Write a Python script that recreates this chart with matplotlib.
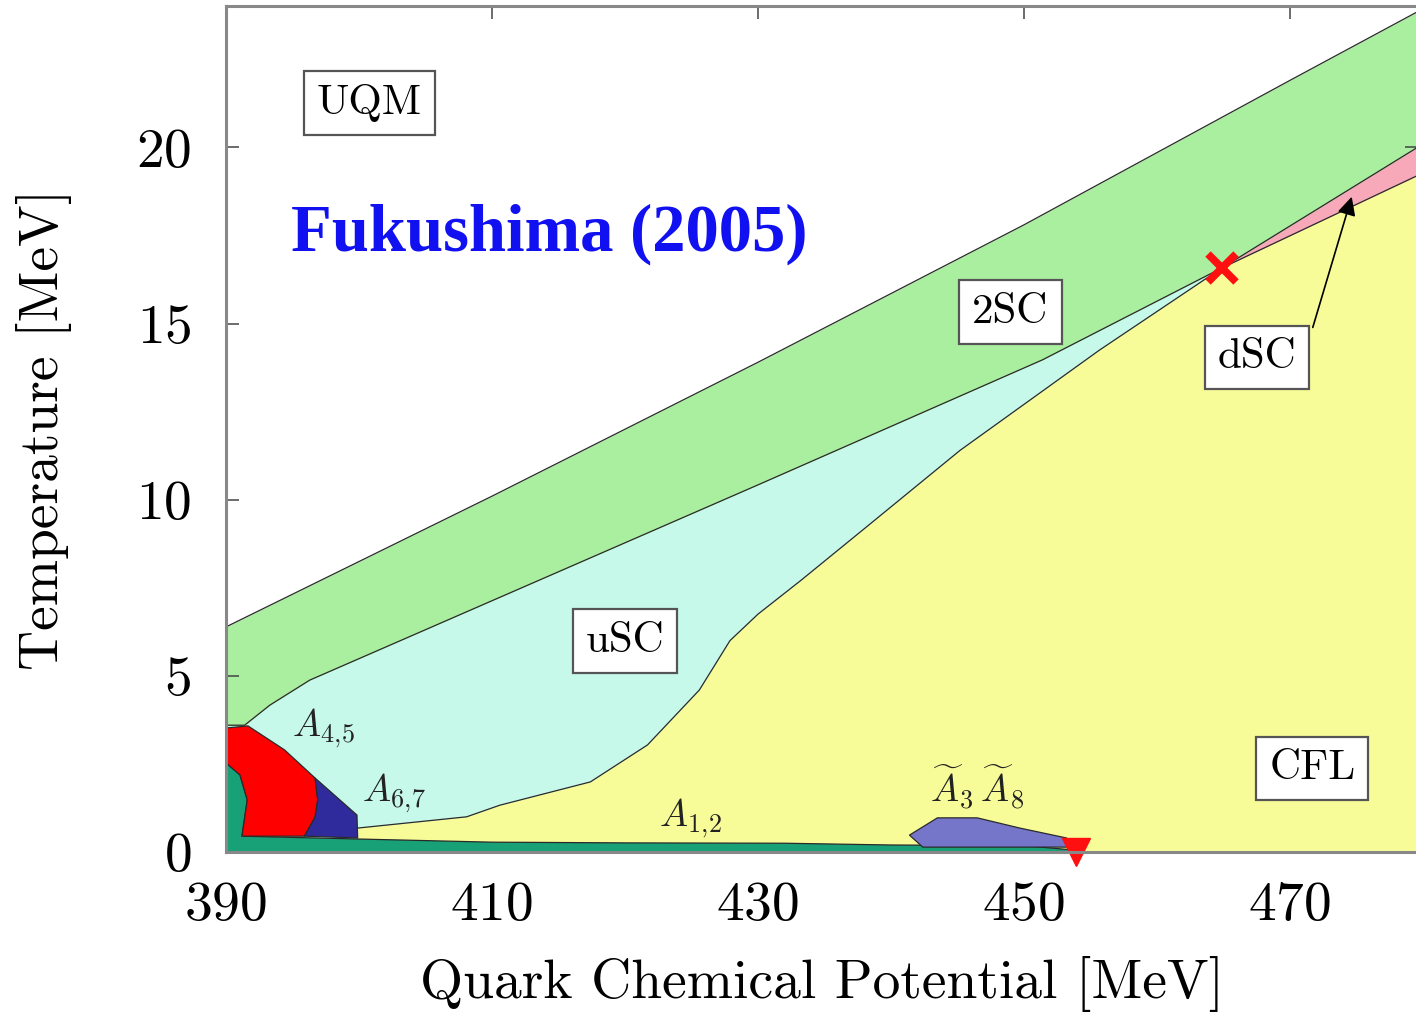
import matplotlib
matplotlib.use("Agg")
import matplotlib.pyplot as plt
from matplotlib.patches import Polygon

plt.rcParams["font.family"] = "cmr10"
plt.rcParams["mathtext.fontset"] = "cm"
plt.rcParams["axes.unicode_minus"] = False
plt.rcParams["axes.formatter.use_mathtext"] = True

# Phase boundaries, quark chemical potential mu [MeV] vs temperature T [MeV]
uqm_mu = [390, 410, 430, 450, 470, 479.6]           # UQM / 2SC
uqm_T = [6.39, 10.1, 13.9, 17.8, 21.9, 23.85]

tsc_mu = [390, 391.4, 393.3, 396.3, 430, 451.4, 464.9, 479.6]   # 2SC / uSC, 2SC / dSC
tsc_T = [3.6, 3.6, 4.17, 4.88, 10.42, 13.97, 16.58, 20.0]

cfl_mu = [399.9, 408.1, 410.6, 417.4, 421.7, 425.6, 427.9, 430.0, 433.2,
          438.4, 445.2, 455.7, 464.9, 479.6]                       # uSC / CFL, dSC / CFL
cfl_T = [0.68, 1.0, 1.33, 1.99, 3.04, 4.6, 6.0, 6.75, 7.7, 9.3, 11.4, 14.25, 16.58, 19.2]

# gapless / meson-condensed islands near the mu axis
teal_pts = [(390, 0), (390, 2.53), (391.05, 2.19), (391.6, 1.48), (391.2, 0.45),
            (399.9, 0.37), (410, 0.28), (420, 0.26), (432, 0.25), (440, 0.2),
            (450, 0.18), (454, 0.05), (454, 0)]
red_pts = [(390, 3.52), (391.65, 3.58), (394.4, 2.9), (396.7, 2.1), (396.9, 1.48),
           (396.7, 0.99), (395.9, 0.45), (391.2, 0.45), (391.6, 1.48),
           (391.05, 2.19), (390, 2.53)]
navy_pts = [(396.7, 2.1), (399.85, 1.05), (399.9, 0.40), (395.9, 0.45),
            (396.7, 0.99), (396.9, 1.48)]
a38_pts = [(441.4, 0.48), (443.5, 0.97), (446.5, 0.97), (449.7, 0.68),
           (453.2, 0.40), (454.2, 0.14), (442.4, 0.14)]

tricrit = (464.9, 16.58)     # 2SC-dSC-CFL meeting point
crit_T0 = (453.9, 0.0)       # end point on the mu axis

phase_boxes = [("UQM", 400.8, 21.25), ("2SC", 449.0, 15.33), ("uSC", 420.0, 5.99),
               ("dSC", 467.55, 14.04), ("CFL", 471.7, 2.38)]
island_labels = [(r"$A_{4,\!5}$", 397.3, 3.5), (r"$A_{6,\!7}$", 402.6, 1.67),
                 (r"$A_{1,\!2}$", 424.9, 0.96),
                 (r"$\widetilde{A}_3\,\widetilde{A}_8$", 446.5, 1.82)]

c_2sc, c_usc, c_dsc, c_cfl = "#aaee9f", "#c6f9e9", "#f8a9b9", "#f8fc98"
edge = "#2a2a2a"

fig = plt.figure(figsize=(14.16, 10.13), dpi=100)
ax = fig.add_axes([0.1596, 0.1589, 0.8414, 0.8347])
ax.set_xlim(390, 479.6)
ax.set_ylim(0, 24)

i_x = tsc_mu.index(tricrit[0])
ax.fill_between(uqm_mu, 0, uqm_T, color=c_2sc, lw=0, zorder=1)
ax.fill_between(tsc_mu[:i_x + 1], 0, tsc_T[:i_x + 1], color=c_usc, lw=0, zorder=2)
ax.fill_between(tsc_mu[i_x:], 0, tsc_T[i_x:], color=c_dsc, lw=0, zorder=2)
ax.fill_between(cfl_mu, 0, cfl_T, color=c_cfl, lw=0, zorder=3)
for curve_mu, curve_T in [(uqm_mu, uqm_T), (tsc_mu, tsc_T), (cfl_mu, cfl_T)]:
    ax.plot(curve_mu, curve_T, color=edge, lw=0.9, zorder=4)

for pts, fc in [(teal_pts, "#18a077"), (red_pts, "#ff0000"),
                (navy_pts, "#2f2b9c"), (a38_pts, "#7575c9")]:
    ax.add_patch(Polygon(pts, closed=True, fc=fc, ec=edge, lw=0.9, zorder=5))

ax.plot(*tricrit, "x", color="#ff1010", ms=20, mew=5.5, zorder=8)
ax.plot(*crit_T0, "v", color="#ff1010", ms=20, zorder=8, clip_on=False)

box_style = dict(boxstyle="square,pad=0.3", fc="white", ec="#555555", lw=1.6)
for txt, x, y in phase_boxes:
    ax.text(x, y, txt, fontsize=31, ha="center", va="center", bbox=box_style, zorder=9)
for txt, x, y in island_labels:
    ax.text(x, y, txt, fontsize=27, ha="center", va="center", color="#222222", zorder=9)

ax.annotate("", xy=(474.66, 18.6), xytext=(471.73, 14.89),
            arrowprops=dict(arrowstyle="-|>", color="black", lw=1.2,
                            mutation_scale=28, shrinkA=0, shrinkB=0), zorder=9)

ax.text(414.3, 17.55, "Fukushima (2005)", fontsize=48, fontweight="bold",
        family="Liberation Serif", color="#1010f0", ha="center", va="center", zorder=9)

ax.set_xticks([390, 410, 430, 450, 470])
ax.set_yticks([0, 5, 10, 15, 20])
ax.tick_params(direction="in", length=9, width=1.1, color="#444444",
               top=True, right=True, labelsize=40)
ax.tick_params(axis="x", pad=21)
ax.tick_params(axis="y", pad=25)
for sp in ax.spines.values():
    sp.set_color("#888888")
    sp.set_linewidth(2.2)
    sp.set_zorder(10)

ax.set_xlabel("Quark Chemical Potential [MeV]", fontsize=40, labelpad=18)
ax.set_ylabel("Temperature [MeV]", fontsize=40, labelpad=46)

fig.savefig("out.png", dpi=100)
